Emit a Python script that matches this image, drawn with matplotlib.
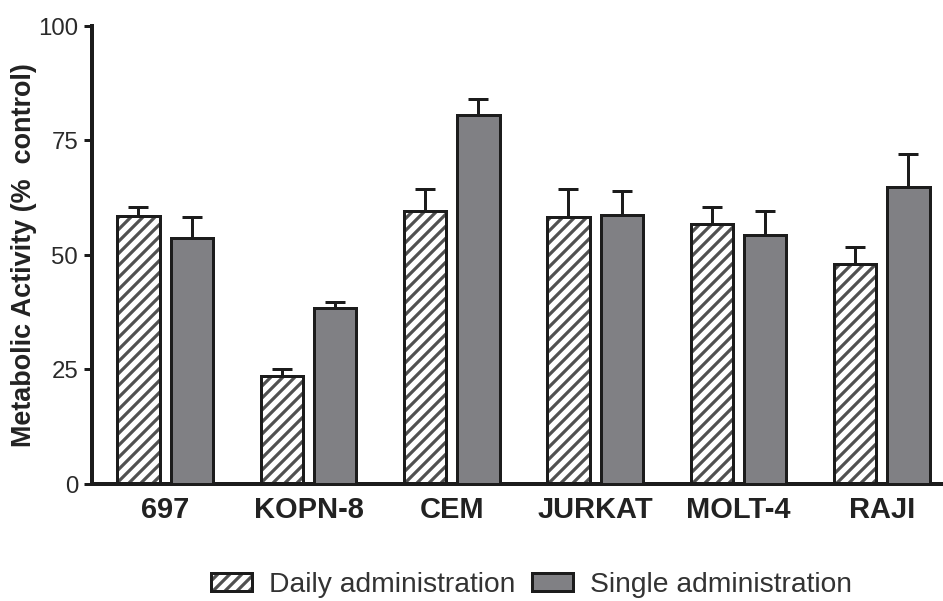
import numpy as np
import matplotlib
matplotlib.use("Agg")
import matplotlib.pyplot as plt
from matplotlib.patches import Patch

# Metabolic activity per cell line (% of control), mean and upper error
cell_lines = ["697", "KOPN-8", "CEM", "JURKAT", "MOLT-4", "RAJI"]
daily_mean = [58.4, 23.6, 59.5, 58.2, 56.7, 47.9]
daily_err = [2.0, 1.4, 4.8, 6.1, 3.7, 3.7]
single_mean = [53.6, 38.3, 80.5, 58.6, 54.3, 64.8]
single_err = [4.6, 1.5, 3.5, 5.3, 5.2, 7.2]
y_ticks = [0, 25, 50, 75, 100]
series_labels = ["Daily administration", "Single administration"]

DPI = 72
EDGE = "#1c1c1c"
GREY = "#808084"
HATCH = "#505050"

plt.rcParams["font.family"] = ["Liberation Sans", "DejaVu Sans"]
plt.rcParams["hatch.linewidth"] = 3.2

fig = plt.figure(figsize=(943.4 / DPI, 601.4 / DPI), dpi=DPI)
ax = fig.add_axes([92 / 943, 1 - 484 / 601, 1 - 92 / 943, (484 - 26) / 601])

x = np.arange(len(cell_lines))
off = 0.186
w = 0.295

# hatched daily bars: hatch layer, then outline
ax.bar(x - off, daily_mean, w, color="white", edgecolor=HATCH, hatch="//",
       linewidth=0, zorder=2)
ax.bar(x - off, daily_mean, w, fill=False, edgecolor=EDGE, linewidth=3, zorder=3)
ax.bar(x + off, single_mean, w, color=GREY, edgecolor=EDGE, linewidth=3, zorder=3)

zeros = np.zeros(len(cell_lines))
for xs, m, e in ((x - off, daily_mean, daily_err), (x + off, single_mean, single_err)):
    ax.errorbar(xs, m, yerr=[zeros, e], fmt="none", ecolor=EDGE, elinewidth=3,
                capsize=10, capthick=3, zorder=1)

ax.set_xlim(-0.51, 5.43)
ax.set_ylim(0, 100)

for s in ("top", "right"):
    ax.spines[s].set_visible(False)
for s in ("left", "bottom"):
    ax.spines[s].set_linewidth(4)
    ax.spines[s].set_color(EDGE)

ax.set_yticks(y_ticks)
ax.tick_params(axis="y", length=8, width=3, pad=6, labelsize=24,
               labelcolor="#2a2a2a", color=EDGE)
ax.set_xticks(x, cell_lines)
ax.tick_params(axis="x", length=0, pad=12, labelsize=29, labelcolor="#222222")
for lbl in ax.get_xticklabels():
    lbl.set_fontweight("bold")

ax.set_ylabel("Metabolic Activity (%  control)", fontsize=27, fontweight="bold",
              color="#222222")
ax.yaxis.label.set_va("center")
ax.yaxis.set_label_coords(-0.08, 0.5)

h_daily = (Patch(facecolor="white", edgecolor=HATCH, hatch="//", linewidth=0),
           Patch(fill=False, edgecolor=EDGE, linewidth=3))
h_single = Patch(facecolor=GREY, edgecolor=EDGE, linewidth=3)
leg = fig.legend([h_daily, h_single], series_labels, loc="center",
                 bbox_to_anchor=(531 / 943, 1 - 585 / 601), ncol=2, frameon=False,
                 fontsize=28.3, handlelength=1.45, handleheight=0.55,
                 handletextpad=0.6, columnspacing=0.6, borderpad=0)
for t in leg.get_texts():
    t.set_color("#333333")

fig.savefig("out.png", dpi=DPI)
